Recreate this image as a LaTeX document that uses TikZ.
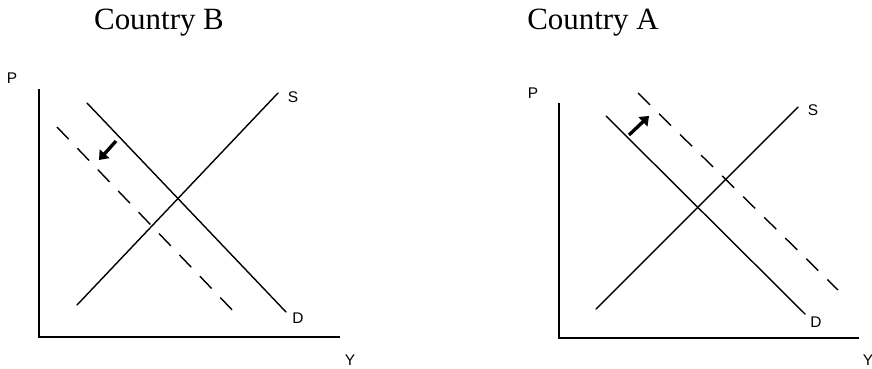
\documentclass[tikz,border=0pt]{standalone}
\usepackage{fontspec}
\setmainfont{Liberation Serif}
\setsansfont{Liberation Sans}
\usetikzlibrary{arrows.meta}

\tikzset{
    axis/.style={line width=1.6pt},
    curve/.style={line width=1pt, line cap=round},
    shifted/.style={line width=1pt, dash pattern=on 12pt off 9pt},
    shiftarrow/.style={line width=2.4pt, -{Triangle[length=6pt,width=9pt]}},
    lbl/.style={font=\sffamily\fontsize{11}{13}\selectfont, inner sep=0pt},
    ttl/.style={font=\fontsize{22}{26}\selectfont, inner sep=0pt}
}

\begin{document}
\begin{tikzpicture}
            \useasboundingbox (-0.975,-0.775) rectangle (20.825,8.425);

            \begin{scope}
                \coordinate (o) at (0,0);
                \coordinate (top) at (0,6.2);
                \coordinate (right) at (7.525,0);
                \coordinate (s1) at (0.95,0.8);
                \coordinate (s2) at (5.975,6.1);
                \coordinate (d1) at (1.2,5.85);
                \coordinate (d2) at (6.175,0.625);
                \coordinate (n1) at (0.45,5.25);
                \coordinate (n2) at (4.95,0.55);
                \coordinate (a1) at (1.925,4.9);
                \coordinate (a2) at (1.5,4.425);

                \draw[axis] (top)--(o)--(right);
                \draw[curve] (s1)--(s2);
                \draw[curve] (d1)--(d2);
                \draw[shifted] (n1)--(n2);
                \draw[shiftarrow] (a1)--(a2);

                \node[ttl] (titleB) at (3.0,7.85) {Country B};
                \node[lbl] (pB) at (-0.675,6.475) {P};
                \node[lbl] (yB) at (7.775,-0.575) {Y};
                \node[lbl] (sB) at (6.35,6.0) {S};
                \node[lbl] (dB) at (6.475,0.475) {D};
            \end{scope}

            \begin{scope}[xshift=13cm, yshift=-0.025cm]
                \coordinate (o) at (0,0);
                \coordinate (top) at (0,5.875);
                \coordinate (right) at (7.5,0);
                \coordinate (s1) at (0.925,0.725);
                \coordinate (s2) at (5.975,5.775);
                \coordinate (d1) at (1.175,5.55);
                \coordinate (d2) at (6.15,0.6);
                \coordinate (n1) at (1.975,6.125);
                \coordinate (n2) at (6.975,1.2);
                \coordinate (a1) at (1.75,5.075);
                \coordinate (a2) at (2.25,5.55);

                \draw[axis] (top)--(o)--(right);
                \draw[curve] (s1)--(s2);
                \draw[curve] (d1)--(d2);
                \draw[shifted] (n1)--(n2);
                \draw[shiftarrow] (a1)--(a2);

                \node[ttl] (titleA) at (0.85,7.875) {Country A};
                \node[lbl] (pA) at (-0.65,6.125) {P};
                \node[lbl] (yA) at (7.725,-0.55) {Y};
                \node[lbl] (sA) at (6.35,5.7) {S};
                \node[lbl] (dA) at (6.425,0.4) {D};
            \end{scope}
        \end{tikzpicture}
\end{document}
